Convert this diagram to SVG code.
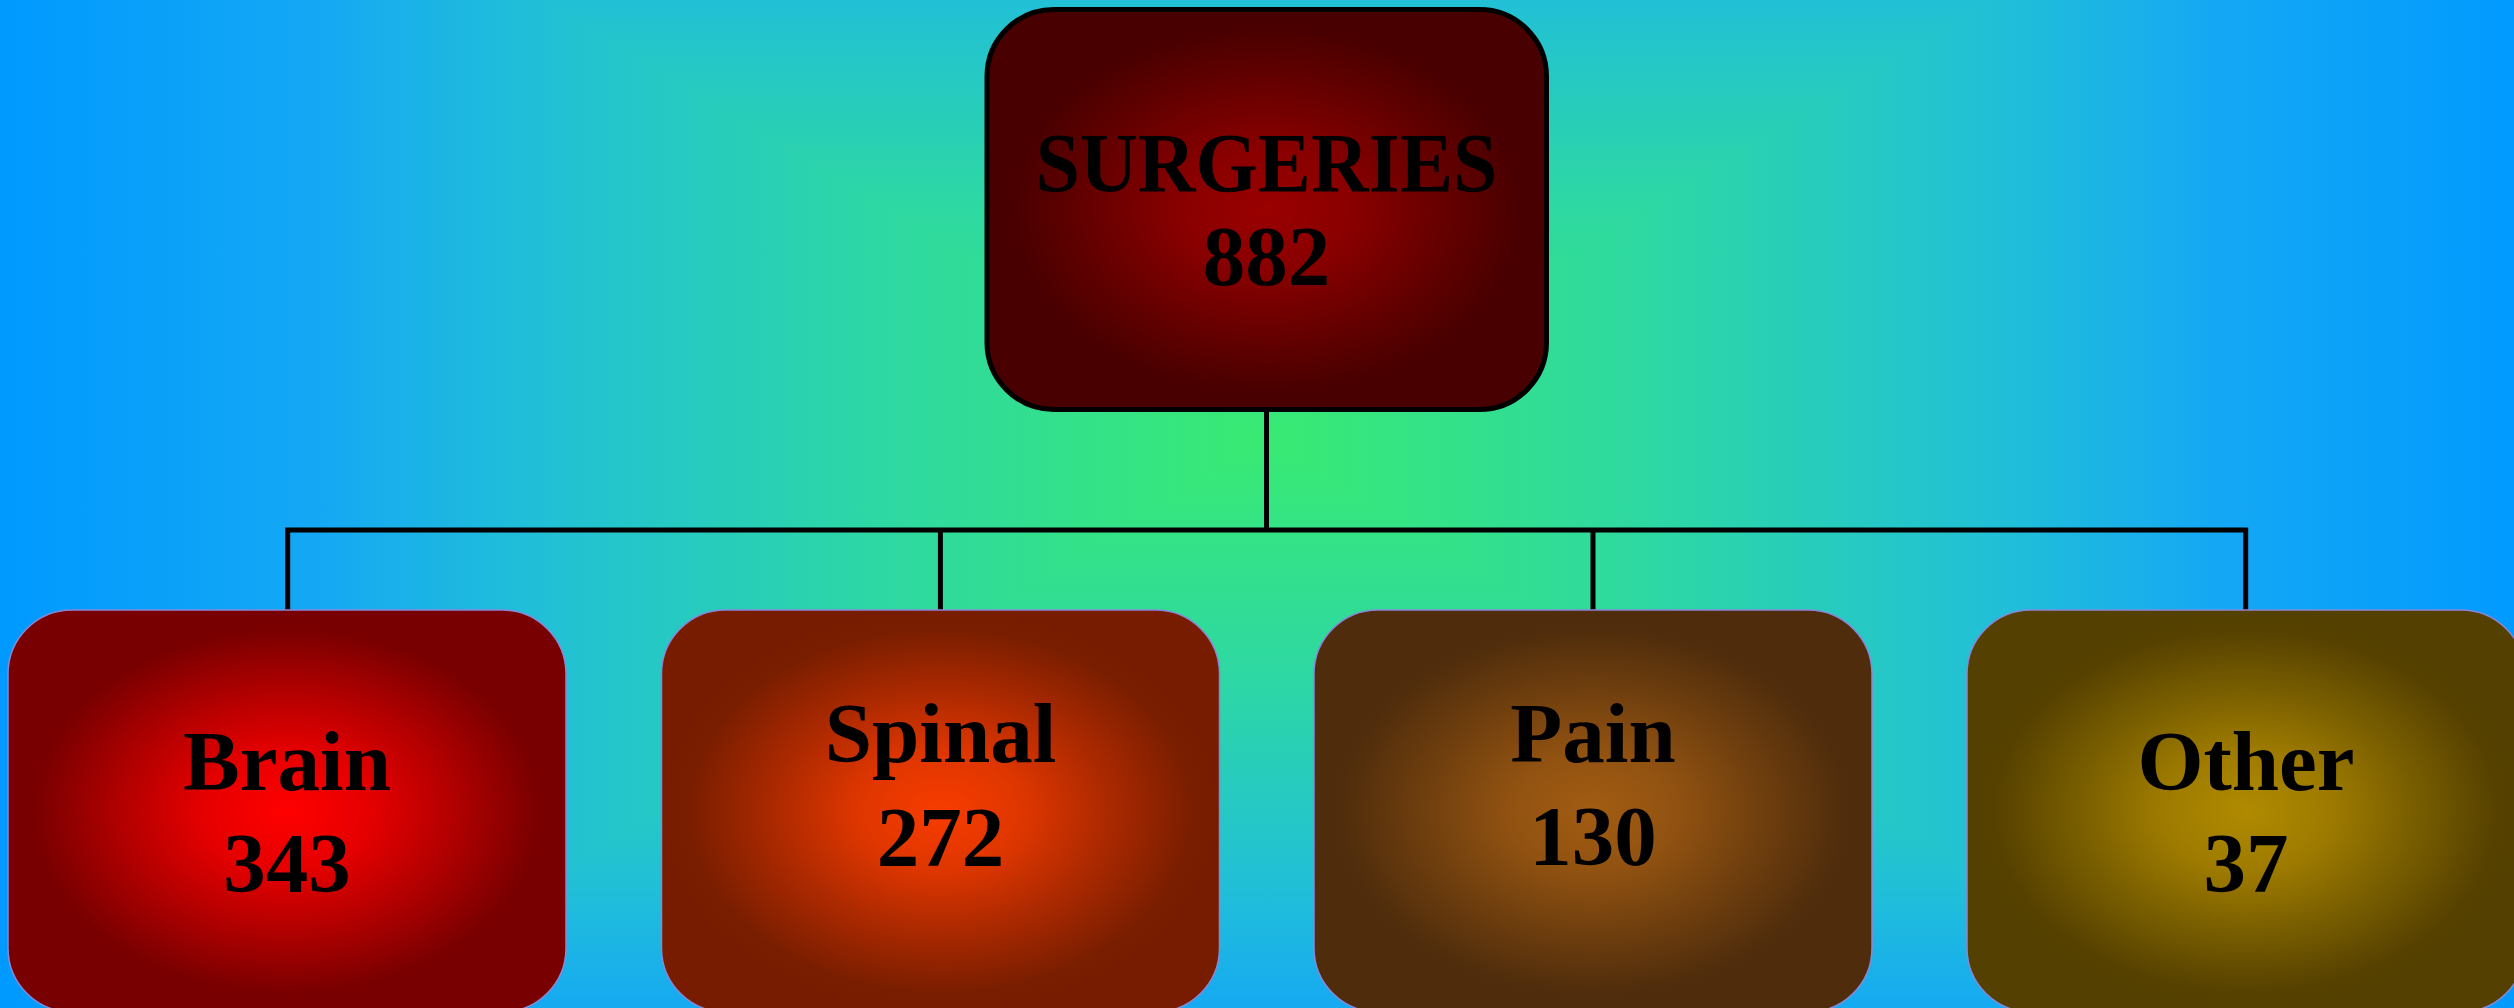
<svg xmlns="http://www.w3.org/2000/svg" width="2514" height="1008" viewBox="0 0 2514 1008">
  <defs>
    <linearGradient id="bgL" gradientUnits="userSpaceOnUse" x1="1266" y1="0" x2="0" y2="0">
      <stop offset="0" stop-color="#38ea72"/>
      <stop offset="0.3" stop-color="#2ed8a2"/>
      <stop offset="0.57" stop-color="#22c0d6"/>
      <stop offset="0.75" stop-color="#14a8f4"/>
      <stop offset="1" stop-color="#0099ff"/>
    </linearGradient>
    <linearGradient id="bgR" gradientUnits="userSpaceOnUse" x1="1266" y1="0" x2="2532" y2="0">
      <stop offset="0" stop-color="#38ea72"/>
      <stop offset="0.3" stop-color="#2ed8a2"/>
      <stop offset="0.57" stop-color="#22c0d6"/>
      <stop offset="0.75" stop-color="#14a8f4"/>
      <stop offset="1" stop-color="#0099ff"/>
    </linearGradient>
    <linearGradient id="bgT" gradientUnits="userSpaceOnUse" x1="0" y1="440" x2="0" y2="-332">
      <stop offset="0" stop-color="#38ea72"/>
      <stop offset="0.3" stop-color="#2ed8a2"/>
      <stop offset="0.57" stop-color="#22c0d6"/>
      <stop offset="0.75" stop-color="#14a8f4"/>
      <stop offset="1" stop-color="#0099ff"/>
    </linearGradient>
    <linearGradient id="bgB" gradientUnits="userSpaceOnUse" x1="0" y1="440" x2="0" y2="1212">
      <stop offset="0" stop-color="#38ea72"/>
      <stop offset="0.3" stop-color="#2ed8a2"/>
      <stop offset="0.57" stop-color="#22c0d6"/>
      <stop offset="0.75" stop-color="#14a8f4"/>
      <stop offset="1" stop-color="#0099ff"/>
    </linearGradient>
    <radialGradient id="gTop" cx="0.5" cy="0.5" r="0.5">
      <stop offset="0" stop-color="#9a0000"/>
      <stop offset="0.3" stop-color="#8a0000"/>
      <stop offset="0.6" stop-color="#690000"/>
      <stop offset="0.9" stop-color="#4a0000"/>
      <stop offset="1" stop-color="#480000"/>
    </radialGradient>
    <radialGradient id="gBrain" cx="0.5" cy="0.5" r="0.5">
      <stop offset="0" stop-color="#ff0000"/>
      <stop offset="0.3" stop-color="#e50000"/>
      <stop offset="0.6" stop-color="#b10000"/>
      <stop offset="0.9" stop-color="#7a0000"/>
      <stop offset="1" stop-color="#780000"/>
    </radialGradient>
    <radialGradient id="gSpinal" cx="0.5" cy="0.5" r="0.5">
      <stop offset="0" stop-color="#f83c00"/>
      <stop offset="0.3" stop-color="#de3600"/>
      <stop offset="0.6" stop-color="#ab2900"/>
      <stop offset="0.9" stop-color="#7a1e00"/>
      <stop offset="1" stop-color="#781c00"/>
    </radialGradient>
    <radialGradient id="gPain" cx="0.5" cy="0.5" r="0.5">
      <stop offset="0" stop-color="#a25c12"/>
      <stop offset="0.3" stop-color="#915211"/>
      <stop offset="0.6" stop-color="#703f0e"/>
      <stop offset="0.9" stop-color="#502d0c"/>
      <stop offset="1" stop-color="#4e2c0c"/>
    </radialGradient>
    <radialGradient id="gOther" cx="0.5" cy="0.5" r="0.5">
      <stop offset="0" stop-color="#b08a00"/>
      <stop offset="0.3" stop-color="#9e7b00"/>
      <stop offset="0.6" stop-color="#795e00"/>
      <stop offset="0.9" stop-color="#564100"/>
      <stop offset="1" stop-color="#544000"/>
    </radialGradient>
    <style>
      .lbl { font-family: "Liberation Serif", "Times New Roman", serif; font-weight: bold; font-size: 85px; fill: #000; text-anchor: middle; }
      .child { stroke: #8a86d8; stroke-width: 1.5; }
      .conn { fill: none; stroke: #000; stroke-width: 5; stroke-linejoin: miter; stroke-linecap: butt; }
    </style>
  </defs>

  <g id="background">
    <rect x="0" y="0" width="1266" height="1008" fill="url(#bgL)"/>
    <rect x="1266" y="0" width="1248" height="1008" fill="url(#bgR)"/>
    <polygon points="1266,440 0,-332 2532,-332" fill="url(#bgT)"/>
    <polygon points="1266,440 0,1212 2532,1212" fill="url(#bgB)"/>
  </g>

  <g id="connectors">
    <path class="conn" d="M1266.5,410 V530"/>
    <path class="conn" d="M287.7,610 V530 H2245.7 V610"/>
    <path class="conn" d="M940.4,530 V610"/>
    <path class="conn" d="M1593,530 V610"/>
  </g>

  <g id="node-surgeries">
    <rect x="987" y="9.5" width="559.5" height="400" rx="67" ry="67" fill="url(#gTop)" stroke="#000" stroke-width="5"/>
    <text class="lbl" x="1266.5" y="192" textLength="462" lengthAdjust="spacingAndGlyphs">SURGERIES</text>
    <text class="lbl" x="1266.5" y="285">882</text>
  </g>

  <g id="node-brain">
    <rect class="child" x="8" y="610" width="558" height="402" rx="64" ry="64" fill="url(#gBrain)"/>
    <text class="lbl" x="287" y="790">Brain</text>
    <text class="lbl" x="287" y="892">343</text>
  </g>

  <g id="node-spinal">
    <rect class="child" x="661.5" y="610" width="558" height="402" rx="64" ry="64" fill="url(#gSpinal)"/>
    <text class="lbl" x="940.5" y="762">Spinal</text>
    <text class="lbl" x="940.5" y="866">272</text>
  </g>

  <g id="node-pain">
    <rect class="child" x="1314" y="610" width="558" height="402" rx="64" ry="64" fill="url(#gPain)"/>
    <text class="lbl" x="1593" y="762">Pain</text>
    <text class="lbl" x="1593" y="865">130</text>
  </g>

  <g id="node-other">
    <rect class="child" x="1967" y="610" width="558" height="402" rx="64" ry="64" fill="url(#gOther)"/>
    <text class="lbl" x="2246" y="790">Other</text>
    <text class="lbl" x="2246" y="892">37</text>
  </g>
</svg>
